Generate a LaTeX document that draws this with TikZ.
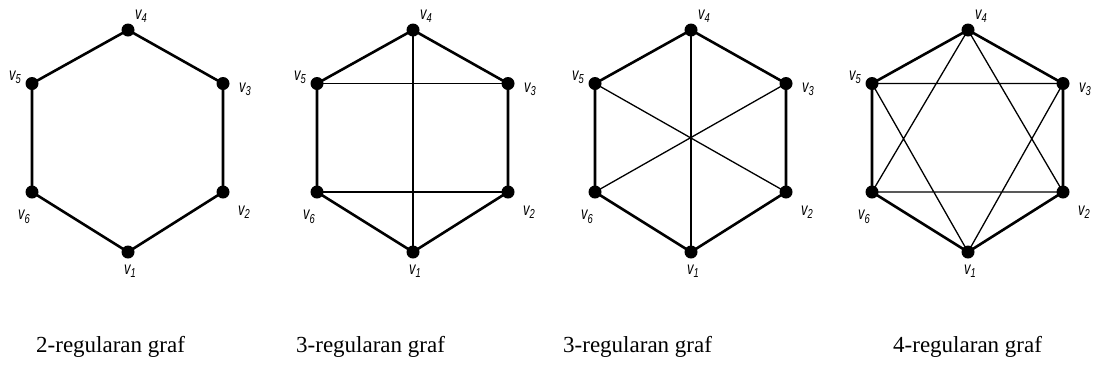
\documentclass[tikz,border=0pt]{standalone}
\usepackage{fontspec}
\setmainfont{Liberation Serif}
\newfontfamily\lblfont{Liberation Sans}
\newcommand{\vlab}[1]{\scalebox{0.72}[1]{\lblfont\itshape v\raisebox{-3.5pt}{\fontsize{13}{13}\selectfont #1}}}
\begin{document}
\begin{tikzpicture}[x=1pt,y=-1pt,
  vtx/.style={circle,fill=black,inner sep=0pt,minimum size=13pt},
  hexedge/.style={line width=2.6pt},
  inedge/.style={line width=1.3pt},
  midedge/.style={line width=2pt},
  lab/.style={inner sep=0pt,font=\fontsize{18}{18}\selectfont},
  captext/.style={inner sep=0pt,anchor=base west,font=\fontsize{23}{26}\selectfont}]
\useasboundingbox (0,0) rectangle (1097,373);
\foreach \g/\cx in {a/128,b/413,c/691,d/968}{
  \coordinate (\g4) at (\cx,30);
  \coordinate (\g5) at (\cx-96,83.5);
  \coordinate (\g3) at (\cx+95,83.5);
  \coordinate (\g6) at (\cx-96,192);
  \coordinate (\g2) at (\cx+95,192);
  \coordinate (\g1) at (\cx,252);
}
% inner edges
\draw[inedge] (b4) -- (b1) (b5) -- (b3) (b6) -- (b2);
\draw[midedge] (c4) -- (c1);
\draw[inedge] (c5) -- (c2) (c3) -- (c6);
\draw[inedge] (d5) -- (d3) (d6) -- (d2) (d4) -- (d6) (d4) -- (d2) (d5) -- (d1) (d3) -- (d1);
\foreach \g in {a,b,c,d}{
  \draw[hexedge,line join=round] (\g1) -- (\g2) -- (\g3) -- (\g4) -- (\g5) -- (\g6) -- cycle;
  \foreach \i in {1,...,6} \node[vtx] (\g v\i) at (\g\i) {};
  \node[lab] (\g l4) at ([shift={(13,-14)}]\g4) {\vlab{4}};
  \node[lab] (\g l5) at ([shift={(-17,-6)}]\g5) {\vlab{5}};
  \node[lab] (\g l3) at ([shift={(22,6)}]\g3) {\vlab{3}};
  \node[lab] (\g l6) at ([shift={(-8,25)}]\g6) {\vlab{6}};
  \node[lab] (\g l2) at ([shift={(21,20)}]\g2) {\vlab{2}};
  \node[lab] (\g l1) at ([shift={(2,19)}]\g1) {\vlab{1}};
}
\node[captext] (t1) at (36,352) {2-regularan graf};
\node[captext] (t2) at (296,352) {3-regularan graf};
\node[captext] (t3) at (563,352) {3-regularan graf};
\node[captext] (t4) at (893,352) {4-regularan graf};
\end{tikzpicture}
\end{document}
